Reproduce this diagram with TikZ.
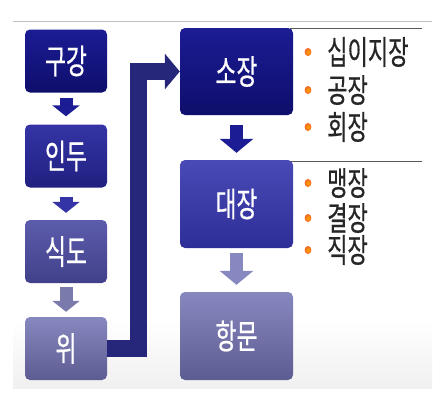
\documentclass[tikz,border=0pt]{standalone}
\usepackage{fontspec}
\setmainfont{Noto Sans CJK KR}
\newfontfamily\medkr{Noto Sans CJK KR}[FakeBold=0.6]
\usepackage{xcolor}
\usetikzlibrary{arrows.meta,calc}

\definecolor{navyA}{HTML}{1C1C94}
\definecolor{navyB}{HTML}{0E0E6C}
\definecolor{midA}{HTML}{3434A6}
\definecolor{midB}{HTML}{202080}
\definecolor{lilA}{HTML}{5C5CAC}
\definecolor{lilB}{HTML}{40408A}
\definecolor{paleA}{HTML}{8888C0}
\definecolor{paleB}{HTML}{5C5C92}
\definecolor{colA}{HTML}{4A4AB6}
\definecolor{colB}{HTML}{2E2E98}
\definecolor{bendcol}{HTML}{26267A}
\definecolor{dotcol}{HTML}{F08030}

\newcommand{\narrow}[1]{\scalebox{0.67}[1]{#1}}

\begin{document}
\begin{tikzpicture}[x=1pt,y=-1pt,
  organ/.style={rectangle,rounded corners=5pt,text=white,font=\medkr\fontsize{34}{36}\selectfont,inner sep=0pt},
  item/.style={anchor=west,text=black!85,font=\medkr\fontsize{33}{35}\selectfont,inner sep=0pt},
  flowarr/.style={line width=13pt,-{Triangle[width=27pt,length=11pt]}},
  bigarr/.style={line width=13pt,-{Triangle[width=33pt,length=14pt]}}]
\useasboundingbox (0,0) rectangle (443,405);
\fill[white] (0,0) rectangle (443,405);
\shade[top color=white,bottom color=black!6] (13,320) rectangle (432,388);
\draw[black!25,line width=0.8pt] (13,21.5) -- (432,21.5);
\draw[black!65,line width=0.8pt] (290,28) -- (422,28);
\draw[black!65,line width=0.8pt] (290,161) -- (422,161);

% left column
\node[organ,minimum width=82pt,minimum height=63pt,top color=navyA,bottom color=navyB] (kougang) at (66,61) {\narrow{구강}};
\node[organ,minimum width=82pt,minimum height=63pt,top color=midA,bottom color=midB] (indu) at (66,156) {\narrow{인두}};
\node[organ,minimum width=82pt,minimum height=63pt,top color=lilA,bottom color=lilB] (sikdo) at (66,251.5) {\narrow{식도}};
\node[organ,minimum width=82pt,minimum height=63pt,top color=paleA,bottom color=paleB] (wi) at (66,348.5) {\narrow{위}};

% right column
\node[organ,minimum width=113pt,minimum height=87pt,top color=navyA,bottom color=navyB] (sojang) at (236.5,71.5) {\narrow{소장}};
\node[organ,minimum width=113pt,minimum height=88pt,top color=colA,bottom color=colB] (daejang) at (236.5,204) {\narrow{대장}};
\node[organ,minimum width=113pt,minimum height=88pt,top color=paleA,bottom color=paleB] (hangmun) at (236.5,336) {\narrow{항문}};

% arrows
\draw[flowarr,draw=navyA,fill=navyA] ([yshift=-5pt]kougang.south) -- ([yshift=8pt]indu.north);
\draw[flowarr,draw=midA,fill=midA] ([yshift=-9pt]indu.south) -- ([yshift=7pt]sikdo.north);
\draw[flowarr,draw=paleA!90!black,fill=paleA!90!black] ([yshift=-4pt]sikdo.south) -- ([yshift=5pt]wi.north);
\draw[bendcol,line width=17pt,line join=miter,-{Triangle[width=35pt,length=15pt]}]
  (wi.east) -| (138.5,71.5) -- (sojang.west);
\draw[bigarr,draw=navyA,fill=navyA] ([yshift=-10pt]sojang.south) -- ([yshift=7pt]daejang.north);
\draw[bigarr,draw=paleA,fill=paleA] ([yshift=-5pt]daejang.south) -- ([yshift=7pt]hangmun.north);

% parts
\foreach \t/\y/\n in {십이지장/52/sib,공장/90/gong,회장/127/hoe,맹장/183/maeng,결장/218/gyeol,직장/250/jik} {
  \node[item] (\n) at (327,\y) {\narrow{\t}};
  \shade[inner color=orange!70!yellow,outer color=dotcol!80!red] (308,\y) ellipse (3.4 and 4);
}
\end{tikzpicture}
\end{document}
